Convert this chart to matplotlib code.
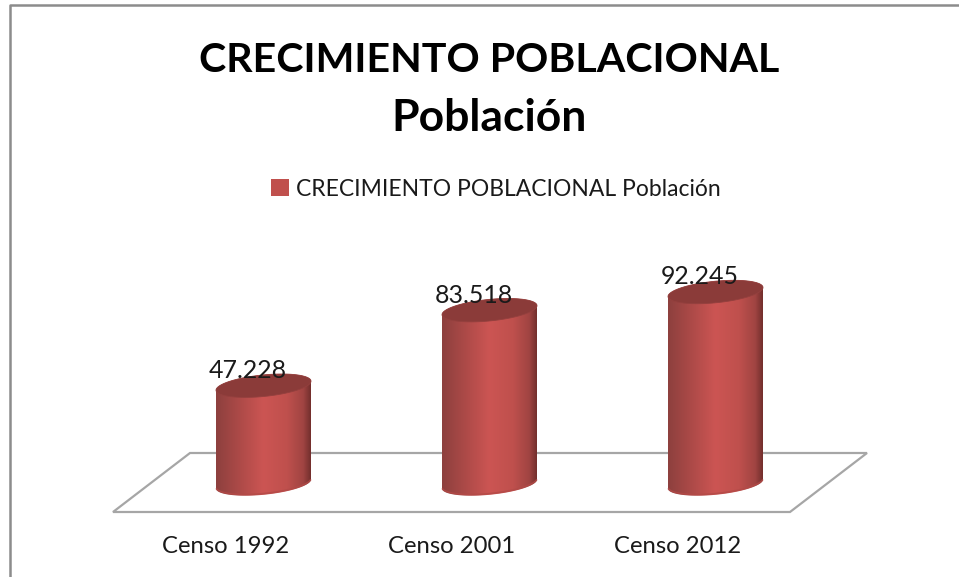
import numpy as np
import matplotlib
matplotlib.use("Agg")
import matplotlib.pyplot as plt
from matplotlib.colors import LinearSegmentedColormap
from matplotlib.patches import Patch, PathPatch, Polygon
from matplotlib.path import Path

categories = ["Censo 1992", "Censo 2001", "Censo 2012"]
poblacion = [47228, 83518, 92245]
value_labels = ["47.228", "83.518", "92.245"]
legend_label = "CRECIMIENTO POBLACIONAL Población"

W, H = 959, 577
# pixel position of the axis origin and size of one unit
X0, XSTEP = 263.5, 226.0
Y0, YSCALE = 484.0, 192.0 / 92245
HALF_W, RY, SHEAR = 47.5, 10.8, 4.5

plt.rcParams["font.family"] = ["Lato", "DejaVu Sans"]
fig = plt.figure(figsize=(W / 100, H / 100), dpi=100)
ax = fig.add_axes([0, 0, 1, 1])
ax.set_xlim(-X0 / XSTEP, (W - X0) / XSTEP)
ax.set_ylim((Y0 - H) / YSCALE, Y0 / YSCALE)
ax.axis("off")


def px(x, y):
    return (x - X0) / XSTEP, (Y0 - y) / YSCALE


# frame of the picture
ax.plot(*zip(px(10, H), px(10, 5), px(W, 5)), color="#8c8c8c", lw=1.8)

# floor
floor = [px(113, 512), px(190, 453), px(867, 453), px(790, 512)]
ax.add_patch(Polygon(floor, closed=True, fc="white", ec="#a6a6a6", lw=1.6, zorder=1))

body_cmap = LinearSegmentedColormap.from_list("body", [
    (0.0, "#8d403e"), (0.25, "#ad4a48"), (0.5, "#cc5553"),
    (0.75, "#bf504d"), (0.92, "#a04442"), (1.0, "#732f2d")])
grad = np.linspace(0, 1, 256).reshape(1, -1)


def rim(cx, cy, t):
    # sheared ellipse, the right side sits higher than the left
    return cx + HALF_W * np.cos(t), cy - SHEAR * np.cos(t) - RY * np.sin(t)


for i, v in enumerate(poblacion):
    cx = X0 + i * XSTEP
    top = Y0 - v * YSCALE
    # outline of the side: lower rim, then upper rim
    xb, yb = rim(cx, Y0, np.linspace(np.pi, 2 * np.pi, 60))
    xt, yt = rim(cx, top, np.linspace(0, np.pi, 60))
    pts = [px(a, b) for a, b in zip(np.r_[xb, xt], np.r_[yb, yt])]
    side = PathPatch(Path(pts + [pts[0]], closed=True), fc="none", ec="none", zorder=2)
    ax.add_patch(side)
    left = px(cx - HALF_W, 0)[0]
    right = px(cx + HALF_W, 0)[0]
    im = ax.imshow(grad, cmap=body_cmap, aspect="auto", zorder=2, vmin=0, vmax=1,
                   extent=[left, right, 0 - 20 / YSCALE, v + 20 / YSCALE])
    im.set_clip_path(side)
    # lighter lower edge of the cylinder
    ax.plot(*zip(*[px(a, b - 1.2) for a, b in zip(xb[3:-3], yb[3:-3])]),
            color="#b34a47", lw=1.2, alpha=0.8, zorder=3)
    # top cap
    xc, yc = rim(cx, top, np.linspace(0, 2 * np.pi, 120))
    ax.add_patch(Polygon([px(a, b) for a, b in zip(xc, yc)], closed=True,
                         fc="#8b3b39", ec="#94403e", lw=0.6, zorder=4))
    ax.annotate(value_labels[i], (i, v), xytext=(-15.5 * 0.72, 15 * 0.72),
                textcoords="offset points", ha="center", va="center",
                fontsize=17.9, color="#1a1a1a", zorder=5)
    ax.annotate(categories[i], (i, 0), xytext=(-38 * 0.72, -62.5 * 0.72),
                textcoords="offset points", ha="center", va="center",
                fontsize=17.2, color="#1a1a1a", zorder=5)

ax.text(*px(489, 60), "CRECIMIENTO POBLACIONAL", ha="center", va="center",
        fontsize=29.6, fontweight="bold", color="black")
ax.text(*px(489, 118), "Población", ha="center", va="center",
        fontsize=32, fontweight="bold", color="black")

ax.legend(handles=[Patch(fc="#c0504d", ec="none", label=legend_label)],
          loc="center", bbox_to_anchor=(495.5 / W, 1 - 189 / H), frameon=False,
          fontsize=16.5, labelcolor="#1a1a1a", handlelength=0.8, handleheight=0.8,
          handletextpad=0.3, borderpad=0)

fig.savefig("out.png", dpi=100, facecolor="white")
